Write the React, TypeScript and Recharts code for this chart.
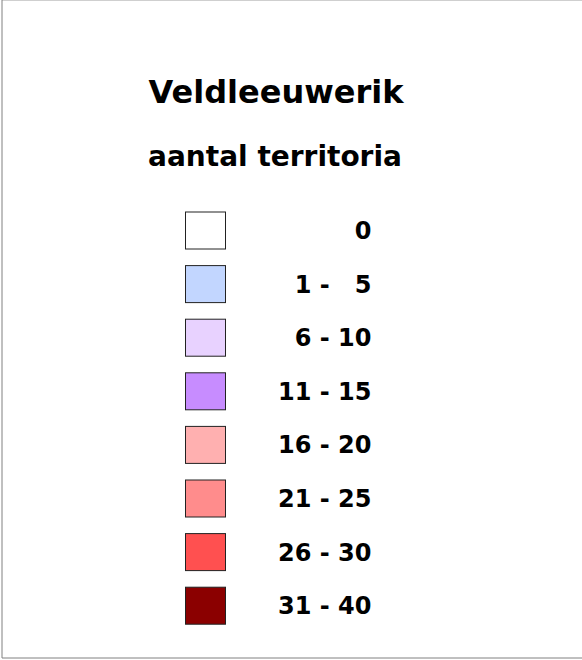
import { ScatterChart, Scatter, XAxis, YAxis, ReferenceLine, Customized } from 'recharts'

const xTicks = [39, 111, 183, 255, 327, 399, 471, 543]
const yTicks = [38, 110, 182, 254, 326, 398, 470, 542, 614]

const titleText = 'Veldleeuwerik'
const subtitleText = 'aantal territoria'
const classLabels = ['0', '1 - \u20075', '6 - 10', '11 - 15', '16 - 20', '21 - 25', '26 - 30', '31 - 40']
const classColors = ['#ffffff', '#c2d6ff', '#e8d2ff', '#c78cff', '#ffb0b0', '#ff8c8c', '#ff5050', '#8b0000']

// legend layout, in axis units
const legendX = 203.5
const legendTop = 427.5
const legendStep = 53.6

const FONT = '"DejaVu Sans", Verdana, sans-serif'

const legendData = classLabels.map((label, i) => ({
  x: legendX,
  y: legendTop - i * legendStep,
  label,
  color: classColors[i],
}))

interface SwatchProps {
  cx?: number
  cy?: number
  payload?: { label: string; color: string }
}

function Swatch({ cx = 0, cy = 0, payload }: SwatchProps) {
  if (!payload) return null
  return (
    <g>
      <rect x={cx - 20} y={cy - 18.5} width={40} height={37} fill={payload.color} stroke="#222" strokeWidth={1} />
      <text
        x={cx + 166}
        y={cy + 8.5}
        textAnchor="end"
        fontFamily={FONT}
        fontWeight="bold"
        fontSize={24}
        fill="#000"
        style={{ whiteSpace: 'pre' }}
      >
        {payload.label}
      </text>
    </g>
  )
}

function Titles() {
  return (
    <g fontFamily={FONT} fontWeight="bold" fill="#000" textAnchor="middle">
      <text x={276} y={103} fontSize={32}>{titleText}</text>
      <text x={275} y={166} fontSize={28}>{subtitleText}</text>
    </g>
  )
}

export default function App() {
  return (
    <div style={{ position: 'absolute', left: 0, top: 0, background: '#fff' }}>
      <ScatterChart width={582} height={660} margin={{ top: 0, right: 0, bottom: 0, left: 0 }}>
        <XAxis
          type="number"
          dataKey="x"
          domain={[0, 580]}
          ticks={xTicks}
          tick={false}
          height={2}
          tickSize={2}
          axisLine={{ stroke: '#808080' }}
          tickLine={{ stroke: '#000' }}
        />
        <YAxis
          type="number"
          dataKey="y"
          domain={[0, 658]}
          ticks={yTicks}
          tick={false}
          width={2}
          tickSize={2}
          axisLine={{ stroke: '#808080' }}
          tickLine={{ stroke: '#000' }}
        />
        <ReferenceLine y={658} stroke="#a0a0a0" ifOverflow="visible" />
        <Customized component={Titles} />
        <Scatter data={legendData} shape={<Swatch />} isAnimationActive={false} />
      </ScatterChart>
    </div>
  )
}
